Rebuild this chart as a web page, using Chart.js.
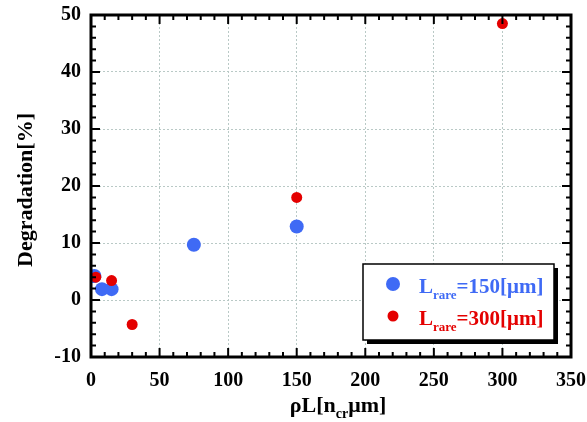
<!DOCTYPE html>
<html lang="en">
<head>
    <meta charset="UTF-8">
    <title>Degradation vs rhoL</title>
    <script src="https://cdn.jsdelivr.net/npm/chart.js"></script>
    <style>
        body {
            margin: 0;
            padding: 0;
            background: #fff;
        }
    </style>
</head>
<body>
    <canvas id="chart" width="587" height="422"></canvas>
    <script>
        // Data
        const xBlue = [2.5, 8, 15, 75, 150];
        const yBlue = [4.2, 1.9, 1.9, 9.7, 12.9];
        const xRed = [3.5, 15, 30, 150, 300];
        const yRed = [4.0, 3.4, -4.3, 18.0, 48.5];
        const xTicks = [0, 50, 100, 150, 200, 250, 300, 350];
        const yTicks = [-10, 0, 10, 20, 30, 40, 50];

        const BLUE = '#3f6af5';
        const RED = '#e40000';
        const SERIF = '"Liberation Serif", "DejaVu Serif", serif';

        function toPoints(xs, ys) {
            return xs.map((x, i) => ({ x: x, y: ys[i] }));
        }

        // draw text with a subscript part: parts = [[text, sub?], ...]
        function drawRich(ctx, parts, x, y, size, color, align) {
            const big = 'bold ' + size + 'px ' + SERIF;
            const small = 'bold ' + Math.round(size * 0.62) + 'px ' + SERIF;
            let total = 0;
            parts.forEach(p => {
                ctx.font = p[1] ? small : big;
                total += ctx.measureText(p[0]).width;
            });
            let cx = align === 'center' ? x - total / 2 : x;
            ctx.fillStyle = color;
            ctx.textBaseline = 'alphabetic';
            ctx.textAlign = 'left';
            parts.forEach(p => {
                ctx.font = p[1] ? small : big;
                ctx.fillText(p[0], cx, p[1] ? y + size * 0.28 : y);
                cx += ctx.measureText(p[0]).width;
            });
        }

        const framePlugin = {
            id: 'frame',
            afterDraw(chart) {
                const ctx = chart.ctx;
                const a = chart.chartArea;
                const xs = chart.scales.x;
                const ys = chart.scales.y;
                ctx.save();
                ctx.strokeStyle = '#000';
                // inward tick marks
                ctx.lineWidth = 2;
                ctx.beginPath();
                for (let v = 0; v <= 350; v += 10) {
                    const px = xs.getPixelForValue(v);
                    const len = v % 50 === 0 ? 9 : 5;
                    ctx.moveTo(px, a.bottom); ctx.lineTo(px, a.bottom - len);
                    ctx.moveTo(px, a.top); ctx.lineTo(px, a.top + len);
                }
                for (let v = -10; v <= 50; v += 2) {
                    const py = ys.getPixelForValue(v);
                    const len = v % 10 === 0 ? 9 : 5;
                    ctx.moveTo(a.left, py); ctx.lineTo(a.left + len, py);
                    ctx.moveTo(a.right, py); ctx.lineTo(a.right - len, py);
                }
                ctx.stroke();
                // frame
                ctx.lineWidth = 3;
                ctx.strokeRect(a.left, a.top, a.right - a.left, a.bottom - a.top);

                // axis titles
                drawRich(ctx, [['ρL[n'], ['cr', true], ['μm]']], 338, 412, 22, '#000', 'center');
                ctx.save();
                ctx.translate(32, 190);
                ctx.rotate(-Math.PI / 2);
                drawRich(ctx, [['Degradation[%]']], 0, 0, 22, '#000', 'center');
                ctx.restore();

                // legend box
                const lx = 363, ly = 264, lw = 191, lh = 76;
                ctx.fillStyle = '#000';
                ctx.fillRect(lx + 4, ly + 4, lw, lh);
                ctx.fillStyle = '#fff';
                ctx.fillRect(lx, ly, lw, lh);
                ctx.lineWidth = 1.5;
                ctx.strokeRect(lx, ly, lw, lh);
                const items = [
                    { color: BLUE, r: 7, label: '=150[μm]', y: 284 },
                    { color: RED, r: 5.5, label: '=300[μm]', y: 316 }
                ];
                items.forEach(it => {
                    ctx.fillStyle = it.color;
                    ctx.beginPath();
                    ctx.arc(393, it.y, it.r, 0, Math.PI * 2);
                    ctx.fill();
                    drawRich(ctx, [['L'], ['rare', true], [it.label]], 419, it.y + 9, 21, it.color, 'left');
                });
                ctx.restore();
            }
        };

        new Chart(document.getElementById('chart'), {
            type: 'scatter',
            data: {
                datasets: [
                    {
                        label: 'Lrare=150[μm]',
                        data: toPoints(xBlue, yBlue),
                        backgroundColor: BLUE,
                        borderWidth: 0,
                        pointRadius: 7,
                        order: 2
                    },
                    {
                        label: 'Lrare=300[μm]',
                        data: toPoints(xRed, yRed),
                        backgroundColor: RED,
                        borderWidth: 0,
                        pointRadius: 5.5,
                        order: 1
                    }
                ]
            },
            plugins: [framePlugin],
            options: {
                responsive: false,
                animation: false,
                layout: { padding: { top: 15, right: 16, left: 0, bottom: 0 } },
                plugins: {
                    legend: { display: false },
                    tooltip: { enabled: false }
                },
                scales: {
                    x: {
                        type: 'linear',
                        min: 0,
                        max: 350,
                        afterBuildTicks: s => { s.ticks = xTicks.map(v => ({ value: v })); },
                        afterFit: s => { s.height = 65; s.paddingLeft = 0; s.paddingRight = 0; },
                        ticks: {
                            color: '#000',
                            font: { family: SERIF, size: 20, weight: 'bold' },
                            maxRotation: 0,
                            padding: 12
                        },
                        grid: {
                            color: '#b9c9c6',
                            drawTicks: false,
                            lineWidth: 1
                        },
                        border: { display: false, dash: [2, 2] }
                    },
                    y: {
                        type: 'linear',
                        min: -10,
                        max: 50,
                        afterBuildTicks: s => { s.ticks = yTicks.map(v => ({ value: v })); },
                        afterFit: s => { s.width = 91; s.paddingTop = 0; s.paddingBottom = 0; },
                        ticks: {
                            color: '#000',
                            font: { family: SERIF, size: 20, weight: 'bold' },
                            padding: 10
                        },
                        grid: {
                            color: '#b9c9c6',
                            drawTicks: false,
                            lineWidth: 1
                        },
                        border: { display: false, dash: [2, 2] }
                    }
                }
            }
        });
    </script>
</body>
</html>
